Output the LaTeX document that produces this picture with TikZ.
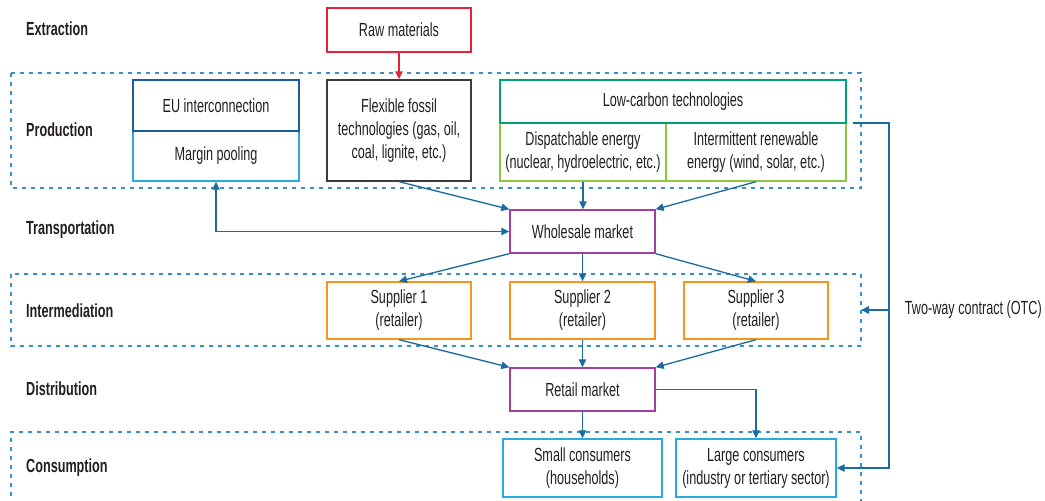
\documentclass[tikz,border=0pt]{standalone}
\usepackage{fontspec}
\setmainfont{Liberation Sans}[FakeStretch=0.665]
\usetikzlibrary{arrows.meta}
\definecolor{txt}{HTML}{231F20}
\definecolor{rawred}{HTML}{E8213F}
\definecolor{eudark}{HTML}{1B5E96}
\definecolor{eulight}{HTML}{29ABE2}
\definecolor{fossilc}{HTML}{3C3C3C}
\definecolor{lcteal}{HTML}{00A07A}
\definecolor{lcgreen}{HTML}{8DC63F}
\definecolor{mktpurple}{HTML}{A1409E}
\definecolor{suporange}{HTML}{F7941D}
\definecolor{conblue}{HTML}{29ABE2}
\definecolor{arrowc}{HTML}{1B6BA0}
\definecolor{dashc}{HTML}{3A8FC8}
\begin{document}
\begin{tikzpicture}[x=1pt,y=-1pt,
  font=\fontsize{19}{23}\selectfont, text=txt,
  box/.style={draw=#1, line width=1.4pt, fill=white, inner sep=0pt, align=center, anchor=center},
  stage/.style={anchor=west, font=\fontsize{19}{23}\selectfont\bfseries, inner sep=0pt},
  region/.style={draw=dashc, line width=1.2pt, dash pattern=on 4pt off 5pt},
  conn/.style={draw=arrowc, line width=1.3pt, -{Triangle[length=8pt,width=7.5pt]}},
  rawconn/.style={draw=rawred, line width=1.3pt, -{Triangle[length=8pt,width=7.5pt]}}
]
\useasboundingbox (0,0) rectangle (1045,501);

% dashed stage regions
\draw[region] (11,73) rectangle (861,188);
\draw[region] (11,274) rectangle (861,346);
\draw[region] (11,505) -- (11,432) -- (861,432) -- (861,505);

% stage labels
\node[stage] (lextr) at (26,29) {Extraction};
\node[stage] (lprod) at (26,130) {Production};
\node[stage] (ltrans) at (26,230) {Transportation};
\node[stage] (linter) at (26,311) {Intermediation};
\node[stage] (ldist) at (26,389) {Distribution};
\node[stage] (lcons) at (26,468) {Consumption};

% boxes
\node[box=rawred, minimum width=144pt, minimum height=44pt] (raw) at (399,30) {Raw materials};

\node[box=eulight, minimum width=166pt, minimum height=50pt] (margin) at (216,156) {Margin pooling};
\node[box=eudark, minimum width=166pt, minimum height=51pt] (eu) at (216,105.5) {EU interconnection};

\node[box=fossilc, minimum width=144pt, minimum height=101pt] (fossil) at (399,130.5) {Flexible fossil\\technologies (gas, oil,\\coal, lignite, etc.)};

\node[box=lcgreen, minimum width=166pt, minimum height=58pt] (disp) at (583,152) {Dispatchable energy\\(nuclear, hydroelectric, etc.)};
\node[box=lcgreen, minimum width=180pt, minimum height=58pt] (inter) at (756,152) {Intermittent renewable\\energy (wind, solar, etc.)};
\node[box=lcteal, minimum width=346pt, minimum height=43pt] (lowc) at (673,101.5) {Low-carbon technologies};

\node[box=mktpurple, minimum width=145pt, minimum height=43pt] (whole) at (582.5,231.5) {Wholesale market};

\node[box=suporange, minimum width=144pt, minimum height=57pt] (sup1) at (399,310.5) {Supplier 1\\(retailer)};
\node[box=suporange, minimum width=145pt, minimum height=57pt] (sup2) at (582.5,310.5) {Supplier 2\\(retailer)};
\node[box=suporange, minimum width=144pt, minimum height=57pt] (sup3) at (756,310.5) {Supplier 3\\(retailer)};

\node[box=mktpurple, minimum width=145pt, minimum height=43pt] (retail) at (582.5,389.5) {Retail market};

\node[box=conblue, minimum width=159pt, minimum height=58pt] (small) at (582.5,468) {Small consumers\\(households)};
\node[box=conblue, minimum width=160pt, minimum height=58pt] (large) at (756,468) {Large consumers\\(industry or tertiary sector)};

\node[anchor=east, inner sep=0pt] (otc) at (1042,310) {Two-way contract (OTC)};

% connectors
\draw[rawconn] (raw.south) -- (fossil.north);
\draw[conn] (fossil.south) -- (whole.north west);
\draw[conn] (disp.south) -- (disp.south |- whole.north);
\draw[conn] (inter.south) -- (whole.north east);
\draw[conn, {Triangle[length=8pt,width=7.5pt]}-{Triangle[length=8pt,width=7.5pt]}] (margin.south) |- (whole.west);

\draw[conn] (whole.south west) -- (sup1.north);
\draw[conn] (whole.south) -- (sup2.north);
\draw[conn] (whole.south east) -- (sup3.north);

\draw[conn] (sup1.south) -- (retail.north west);
\draw[conn] (sup2.south) -- (retail.north);
\draw[conn] (sup3.south) -- (retail.north east);

\draw[conn] (retail.south) -- (small.north);
\draw[conn] (retail.east) -| (large.north);

\coordinate (otcstart) at (853,123);
\coordinate (otcbend) at (889,123);
\coordinate (otcjoin) at (889,310);
\coordinate (interedge) at (861,310);
\draw[conn] (otcstart) -- (otcbend) -- (otcbend |- large.east) -- (large.east);
\draw[conn] (otcjoin) -- (interedge);
\end{tikzpicture}
\end{document}
